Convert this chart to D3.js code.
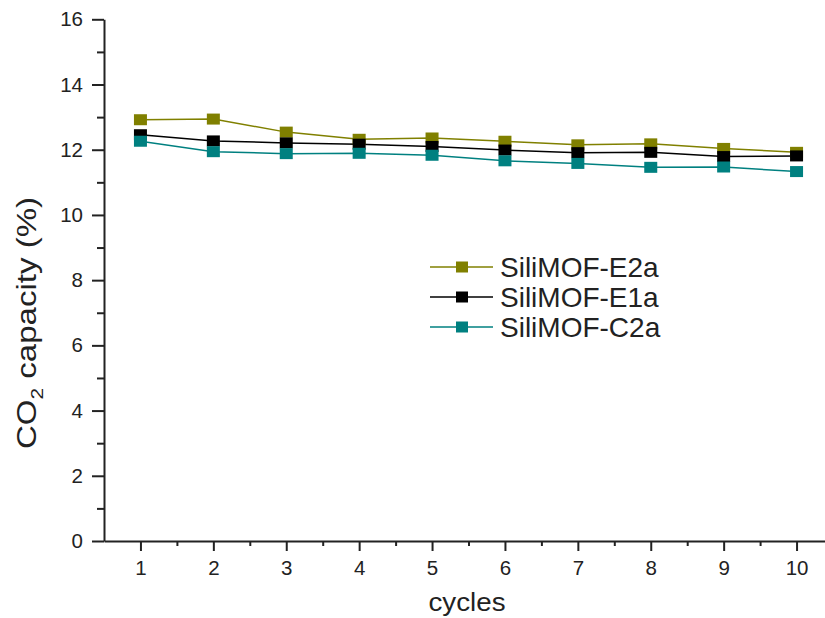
<!DOCTYPE html>
<meta charset="utf-8">
<script src="https://cdn.jsdelivr.net/npm/d3@7"></script>
<style>
  body { margin: 0; background: #fff; }
  svg { display: block; font-family: "Liberation Sans", Arial, sans-serif; }
  .axis path, .axis line { stroke: #222; stroke-width: 2; }
  .axis text { fill: #222; font-size: 20.5px; font-family: "Liberation Sans", Arial, sans-serif; }
</style>
<body>
<script>

var width = 825
var height = 618

// data
var cycles = [1, 2, 3, 4, 5, 6, 7, 8, 9, 10]
var e2a = [12.92, 12.94, 12.54, 12.32, 12.36, 12.26, 12.15, 12.18, 12.04, 11.92]
var e1a = [12.46, 12.27, 12.21, 12.17, 12.10, 11.99, 11.91, 11.92, 11.79, 11.81]
var c2a = [12.26, 11.94, 11.88, 11.89, 11.83, 11.66, 11.58, 11.46, 11.47, 11.33]
var seriesNames = ["SiliMOF-E2a", "SiliMOF-E1a", "SiliMOF-C2a"]
var seriesColors = ["#808000", "#000000", "#008080"]
var yTicks = [0, 2, 4, 6, 8, 10, 12, 14, 16]
var yMinor = [1, 3, 5, 7, 9, 11, 13, 15]
var xMinor = [1.5, 2.5, 3.5, 4.5, 5.5, 6.5, 7.5, 8.5, 9.5, 10.5]

var x = d3.scaleLinear().domain([0.5, 10.5]).range([104, 833]);
var y = d3.scaleLinear().domain([0, 16]).range([541, 19.3]);

var svg = d3.select("body").append("svg")
            .attr("width", width)
            .attr("height", height);

// minor ticks
svg.append("g")
    .attr("class", "axis")
    .attr("transform", "translate(" + x.range()[0] + ",0)")
    .call(d3.axisLeft(y).tickValues(yMinor).tickSize(7).tickFormat(""))
    .select(".domain").remove();

svg.append("g")
    .attr("class", "axis")
    .attr("transform", "translate(0," + y(0) + ")")
    .call(d3.axisBottom(x).tickValues(xMinor).tickSize(5).tickFormat(""))
    .select(".domain").remove();

// major axes
svg.append("g")
    .attr("class", "axis")
    .attr("transform", "translate(" + x.range()[0] + ",0)")
    .call(d3.axisLeft(y).tickValues(yTicks).tickSize(12).tickSizeOuter(0).tickPadding(9));

svg.append("g")
    .attr("class", "axis")
    .attr("transform", "translate(0," + y(0) + ")")
    .call(d3.axisBottom(x).tickValues(cycles).tickSize(10).tickSizeOuter(0).tickPadding(9));

// axis titles
svg.append("text")
   .attr("x", 467)
   .attr("y", 611)
   .attr("text-anchor", "middle")
   .attr("textLength", 77)
   .attr("lengthAdjust", "spacingAndGlyphs")
   .style("font-size", "25px")
   .style("fill", "#222")
   .text("cycles");

var ylab = svg.append("text")
   .attr("transform", "translate(36,323) rotate(-90)")
   .attr("text-anchor", "middle")
   .attr("textLength", 252)
   .attr("lengthAdjust", "spacingAndGlyphs")
   .style("font-size", "27px")
   .style("fill", "#222");
ylab.append("tspan").text("CO");
ylab.append("tspan").attr("dy", 7).style("font-size", "17px").text("2");
ylab.append("tspan").attr("dy", -7).text(" capacity (%)");

// series
var allSeries = [e2a, e1a, c2a];
var line = d3.line().x(function(d, i) { return x(cycles[i]); }).y(function(d) { return y(d); });

allSeries.forEach(function(vals, k) {
  svg.append("path")
     .attr("d", line(vals))
     .attr("fill", "none")
     .attr("stroke", seriesColors[k])
     .attr("stroke-width", 1.5);
});
allSeries.forEach(function(vals, k) {
  svg.selectAll(".m" + k).data(vals).enter().append("rect")
     .attr("class", "m" + k)
     .attr("x", function(d, i) { return x(cycles[i]) - 6.5; })
     .attr("y", function(d) { return y(d) - 5.5; })
     .attr("width", 13)
     .attr("height", 11)
     .attr("fill", seriesColors[k]);
});

// legend
var legend = svg.append("g").attr("transform", "translate(430,267)");
seriesNames.forEach(function(name, k) {
  var g = legend.append("g").attr("transform", "translate(0," + k * 30 + ")");
  g.append("line").attr("x1", 0).attr("x2", 63).attr("y1", 0).attr("y2", 0)
   .attr("stroke", seriesColors[k]).attr("stroke-width", 1.5);
  g.append("rect").attr("x", 26).attr("y", -5.5).attr("width", 12).attr("height", 11)
   .attr("fill", seriesColors[k]);
  g.append("text").attr("x", 70).attr("y", 10)
   .style("font-size", "28px").style("fill", "#222").text(name);
});

</script>
</body>
